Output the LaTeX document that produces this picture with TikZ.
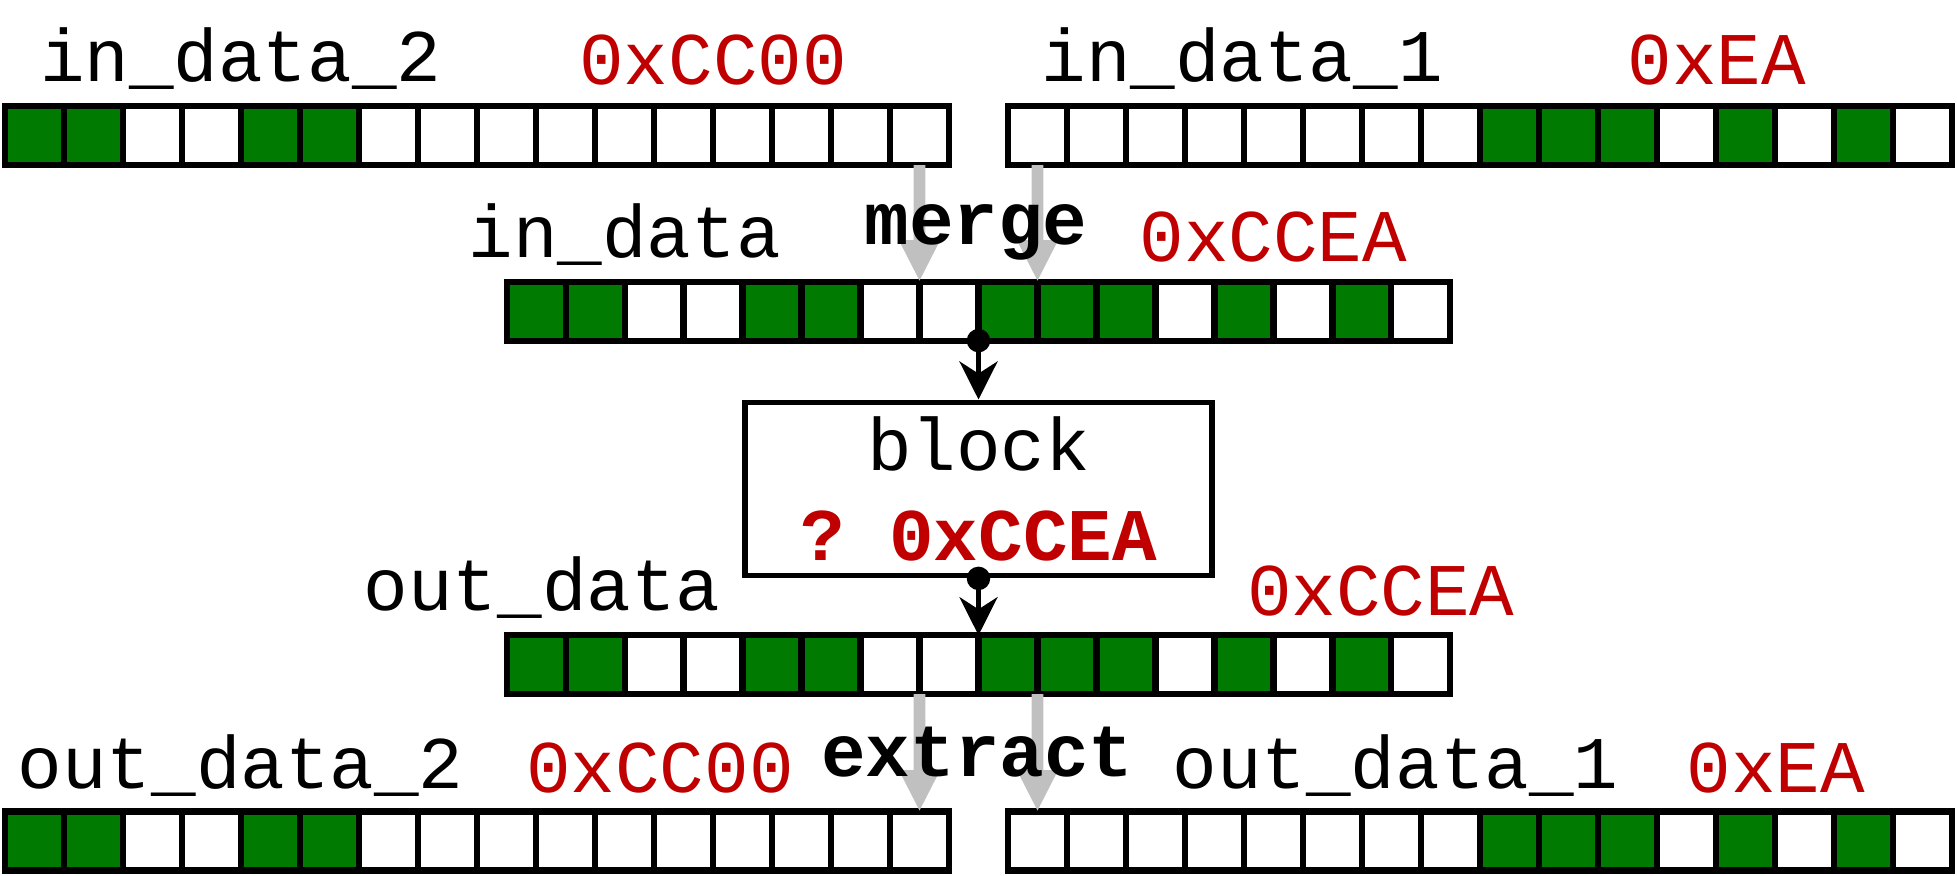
\documentclass[tikz,border=0pt]{standalone}
\usepackage{fontspec}
\setmonofont{Liberation Mono}
\usetikzlibrary{arrows.meta}
\definecolor{bitgreen}{HTML}{007A00}
\definecolor{hexred}{HTML}{C00000}
\definecolor{wire}{HTML}{C0C0C0}

\newcommand{\bitrow}[4]{%
  \foreach \bit [count=\i] in {#4}{%
    \ifnum\bit=1 \def\cellcol{bitgreen}\else\def\cellcol{white}\fi
    \node[cell,fill=\cellcol] (#1-\i) at ({#2+\i-.5},#3) {};
  }}

\begin{document}
\begin{tikzpicture}[x=.6cm,y=.6cm,every node/.style={font=\ttfamily\fontsize{21.5}{26.1}\selectfont,inner sep=0},cell/.style={draw,line width=1.8pt,minimum width=.6cm,minimum height=.6cm,outer sep=0},lbl/.style={anchor=base},hex/.style={anchor=base,text=hexred},op/.style={anchor=base,font=\ttfamily\bfseries\fontsize{21.5}{26.1}\selectfont},feed/.style={-{Triangle[length=12pt,width=11pt]},wire,line width=3.4pt},link/.style={-{Stealth[length=11pt,width=11pt,inset=3.5pt]},line width=1.5pt},blockbox/.style={draw,line width=1.7pt,minimum width=4.75cm,minimum height=1.76cm,align=center}]
\path[use as bounding box] (-.09,0) rectangle (33.09,14.85);

\bitrow{in2}{0}{12.55}{1,1,0,0,1,1,0,0,0,0,0,0,0,0,0,0}
\bitrow{in1}{17}{12.55}{0,0,0,0,0,0,0,0,1,1,1,0,1,0,1,0}
\bitrow{ind}{8.5}{9.575}{1,1,0,0,1,1,0,0,1,1,1,0,1,0,1,0}
\bitrow{outd}{8.5}{3.58}{1,1,0,0,1,1,0,0,1,1,1,0,1,0,1,0}
\bitrow{out2}{0}{0.59}{1,1,0,0,1,1,0,0,0,0,0,0,0,0,0,0}
\bitrow{out1}{17}{0.59}{0,0,0,0,0,0,0,0,1,1,1,0,1,0,1,0}

\draw[feed] (in2-16.south) -- (ind-8.north west);
\draw[feed] (in1-1.south) -- (ind-10.north west);
\draw[feed] (outd-8.south west) -- (out2-16.north);
\draw[feed] (outd-10.south west) -- (out1-1.north);

\node[lbl] (in2lbl) at (3.99,13.47) {in\_data\_2};
\node[hex] (in2hex) at (12.0,13.42) {0xCC00};
\node[lbl] (in1lbl) at (20.97,13.47) {in\_data\_1};
\node[hex] (in1hex) at (29.02,13.42) {0xEA};
\node[lbl] (indlbl) at (10.5,10.48) {in\_data};
\node[op] (merge) at (16.46,10.70) {merge};
\node[hex] (indhex) at (21.5,10.41) {0xCCEA};
\node[lbl] (outdlbl) at (9.1,4.50) {out\_data};
\node[hex] (outdhex) at (23.32,4.41) {0xCCEA};
\node[op] (extract) at (16.48,1.69) {extract};
\node[lbl] (out2lbl) at (3.99,1.48) {out\_data\_2};
\node[hex] (out2hex) at (11.1,1.42) {0xCC00};
\node[lbl] (out1lbl) at (23.57,1.48) {out\_data\_1};
\node[hex] (out1hex) at (30.02,1.42) {0xEA};

\node[blockbox] (blk) at (16.5,6.56) {block\\{\bfseries\color{hexred}? 0xCCEA}};
\draw[link] (ind-8.south east) -- (blk.north);
\fill (ind-8.south east) circle (3.4pt);
\draw[link] (blk.south) -- (outd-8.north east);
\fill (blk.south) circle (3.4pt);

\end{tikzpicture}
\end{document}
